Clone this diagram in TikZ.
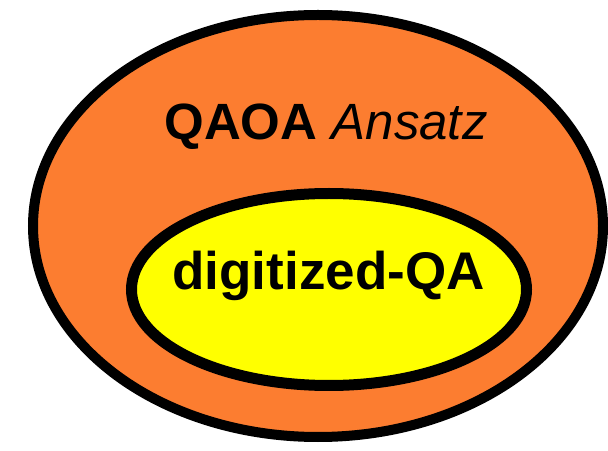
\documentclass[tikz,border=0pt]{standalone}
\usepackage{fontspec}
\setmainfont{Liberation Sans}
\definecolor{qaoaorange}{RGB}{252,125,48}
\definecolor{dqayellow}{RGB}{255,255,0}
\begin{document}
\begin{tikzpicture}[x=1pt,y=1pt,
  setline/.style={draw=black,line width=10pt},
  setlabel/.style={anchor=base,inner sep=0pt,text=black}]
\useasboundingbox (0,0) rectangle (608,450);
\clip (0,0) rectangle (608,450);
% outer set: QAOA ansatz
\draw[setline,fill=qaoaorange] (318,224) ellipse [x radius=285,y radius=211];
% inner set: digitized quantum annealing
\draw[setline,line width=11pt,fill=dqayellow] (329,160.5) ellipse [x radius=197.5,y radius=96];
\node[setlabel] (qaoa) at (326,310) {\fontsize{51}{60}\selectfont\bfseries QAOA \mdseries\itshape Ansatz};
\node[setlabel] (dqa) at (328.5,160) {\fontsize{53}{62}\selectfont\bfseries digitized-QA};
\end{tikzpicture}
\end{document}
